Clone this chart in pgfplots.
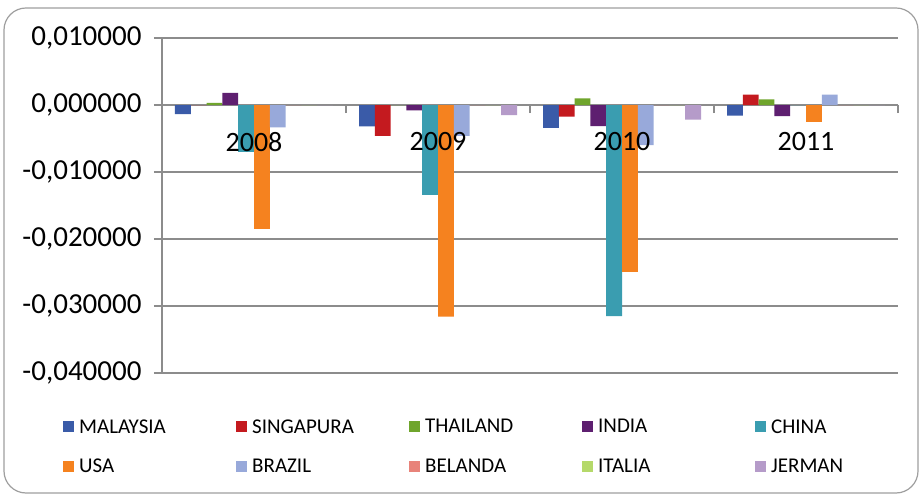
\documentclass[border=0pt]{standalone}
\usepackage{fontspec}
\setmainfont{Carlito}
\usepackage{pgfplots}
\pgfplotsset{compat=1.18}
\definecolor{cMAL}{HTML}{3A5BA8}
\definecolor{cSIN}{HTML}{C41A1F}
\definecolor{cTHA}{HTML}{6FA52C}
\definecolor{cIND}{HTML}{5E1F70}
\definecolor{cCHI}{HTML}{3A9DB0}
\definecolor{cUSA}{HTML}{F5821F}
\definecolor{cBRA}{HTML}{98A9DA}
\definecolor{cBEL}{HTML}{E8837A}
\definecolor{cITA}{HTML}{B5D96A}
\definecolor{cJER}{HTML}{B59BC9}
\definecolor{gridgray}{HTML}{8C8C8C}
\newcommand\lent[1]{\makebox[157bp][l]{#1}}
\begin{document}
\begin{tikzpicture}
\useasboundingbox (0,0) rectangle (919bp,497bp);
\fill[white] (0,0) rectangle (919bp,497bp);
\draw[gray!75, line width=1.2bp, rounded corners=22bp] (4bp,4bp) rectangle (918bp,489bp);
\begin{axis}[
  at={(162bp,124bp)}, anchor=south west,
  scale only axis, width=736bp, height=335bp,
  xmin=-0.5, xmax=3.5, ymin=-0.04, ymax=0.01,
  axis y line*=left, axis x line*=middle,
  axis line style={-, draw=gridgray, line width=1.2bp},
  ybar=0pt, bar width=15.8bp,
  scaled y ticks=false,
  ymajorgrids, grid style={draw=gridgray, line width=1.2bp},
  ytick={-0.04,-0.03,-0.02,-0.01,0,0.01},
  yticklabels={{-0,040000},{-0,030000},{-0,020000},{-0,010000},{0,000000},{0,010000}},
  yticklabel style={font=\fontsize{29bp}{32bp}\selectfont, anchor=east, xshift=-9bp},
  major tick length=8bp, tick align=outside,
  tick style={draw=gridgray, line width=1.2bp},
  xtick={0.5,1.5,2.5,3.5}, xticklabels={},
  legend style={draw=none, fill=none, at={(axis description cs:-0.1386,-0.132)}, anchor=north west,
     font=\fontsize{21bp}{24bp}\selectfont, legend columns=5, row sep=24bp,
     /tikz/every odd column/.style={column sep=5bp},
     /tikz/every even column/.style={column sep=0bp},
     nodes={inner sep=0pt}},
  legend cell align=left,
  legend image code/.code={\fill[#1,draw=none] (0bp,-5.5bp) rectangle (11bp,5.5bp);},
]
\addplot[fill=cMAL, draw=none] coordinates {(0,-0.00135) (1,-0.0032) (2,-0.0034) (3,-0.0016)};
\addplot[fill=cSIN, draw=none] coordinates {(0,0) (1,-0.0046) (2,-0.00175) (3,0.00155)};
\addplot[fill=cTHA, draw=none] coordinates {(0,0.0003) (1,0) (2,0.001) (3,0.00085)};
\addplot[fill=cIND, draw=none] coordinates {(0,0.0018) (1,-0.0008) (2,-0.00315) (3,-0.00165)};
\addplot[fill=cCHI, draw=none] coordinates {(0,-0.007) (1,-0.0134) (2,-0.0315) (3,0)};
\addplot[fill=cUSA, draw=none] coordinates {(0,-0.0185) (1,-0.0316) (2,-0.0249) (3,-0.0025)};
\addplot[fill=cBRA, draw=none] coordinates {(0,-0.00335) (1,-0.0046) (2,-0.006) (3,0.00155)};
\addplot[fill=cBEL, draw=none] coordinates {(0,0) (1,0) (2,0) (3,0)};
\addplot[fill=cITA, draw=none] coordinates {(0,0) (1,0) (2,0) (3,0)};
\addplot[fill=cJER, draw=none] coordinates {(0,0) (1,-0.0015) (2,-0.0022) (3,0)};
\legend{\lent{MALAYSIA},\lent{SINGAPURA},\lent{THAILAND},\lent{INDIA},\lent{CHINA},
        \lent{USA},\lent{BRAZIL},\lent{BELANDA},\lent{ITALIA},\lent{JERMAN}}
\foreach \i/\lab in {0/2008,1/2009,2/2010,3/2011}{
  \edef\temp{\noexpand\node[anchor=north, inner sep=0pt, yshift=-27bp, font=\noexpand\fontsize{28bp}{30bp}\noexpand\selectfont] at (axis cs:\i,0) {\lab};}
  \temp
}
\end{axis}
\end{tikzpicture}
\end{document}
